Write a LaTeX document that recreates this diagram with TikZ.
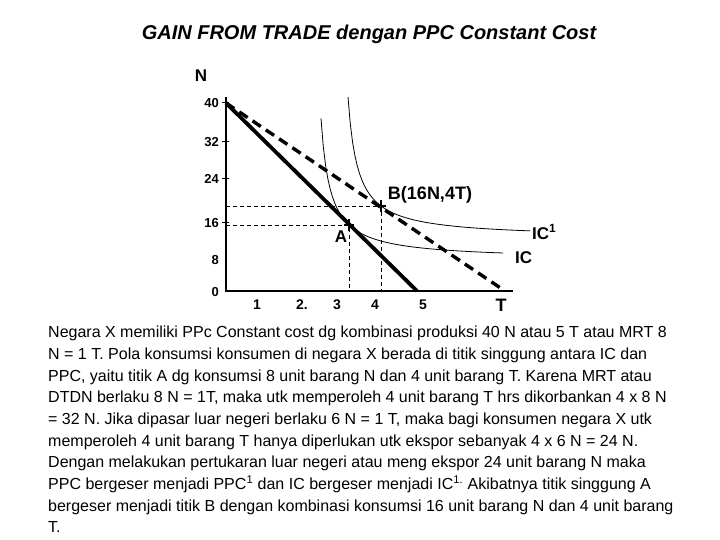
\documentclass[tikz,border=0pt]{standalone}
\usepackage{fontspec}
\setmainfont{Liberation Sans}
\usetikzlibrary{calc,positioning}
\tikzset{
  every picture/.style={font=\fontsize{16}{21.67}\selectfont,text=black},
  axis/.style={draw=black,line width=1.3pt},
  ppc/.style={draw=black,line width=3.8pt},
  ppctrade/.style={draw=black,line width=3.4pt,dash pattern=on 10pt off 6pt},
  indiff/.style={draw=black,line width=0.8pt},
  guide/.style={draw=black,line width=0.8pt,dash pattern=on 4pt off 3pt},
  marker/.style={draw=black,line width=1.2pt},
  tick label/.style={font=\bfseries\fontsize{13}{15}\selectfont,anchor=east,inner sep=1pt},
  num label/.style={font=\bfseries\fontsize{14}{16}\selectfont,inner sep=1pt},
  curve label/.style={font=\bfseries\fontsize{17}{19}\selectfont,inner sep=1pt},
}

\begin{document}
\begin{tikzpicture}[x=1pt,y=-1pt]
  \path[use as bounding box] (0,0) rectangle (720,540);
  \node[font=\bfseries\itshape\fontsize{20}{22}\selectfont] (title) at (369,34)
    {GAIN FROM TRADE dengan PPC Constant Cost};
  % axes
  \coordinate (O) at (226,291);
  \coordinate (ytop) at (226,97);
  \coordinate (xend) at (513,291);
  \draw[axis] (ytop) -- (O) -- (xend);
  \node[curve label] (ylab) at (201,76) {N};
  \node[curve label,font=\bfseries\fontsize{18}{20}\selectfont] (xlab) at (501,305) {T};
  \foreach \v/\y in {40/103,32/142,24/179,16/223} {
    \draw[axis,line width=1pt] (222,\y) -- (229,\y);
    \node[tick label] (n\v) at (220,\y) {\v};
  }
  \node[tick label] (n8) at (220,260) {8};
  \node[tick label] (n0) at (220,292) {0};
  \foreach \t/\x in {1/257,2./302,3/337,4/375,5/423}
    \node[num label] (t\t) at (\x,305) {\t};
  % consumption points and guides
  \coordinate (ptA) at (349,225);
  \coordinate (ptB) at (381,206);
  \draw[guide] (226,225) -- (ptA) -- (349,291);
  \draw[guide] (226,206) -- (ptB) -- (381,291);
  % indifference curves
  \draw[indiff] plot[domain=321:503,samples=80] (\x,{259.8-1300/(\x-311.8)});
  \draw[indiff] plot[domain=348:530,samples=80] (\x,{238-1368/(\x-338.3)});
  % production possibility curves
  \coordinate (ppctop) at (226,103);
  \coordinate (ppcend) at (417,291);
  \coordinate (tradeend) at (502,289);
  \draw[ppc] (ppctop) -- (ppcend);
  \draw[ppctrade] (ppctop) -- (tradeend);
  \foreach \p in {ptA,ptB}
    \draw[marker] ($(\p)+(-5,0)$) -- ($(\p)+(5,0)$) ($(\p)+(0,-6)$) -- ($(\p)+(0,6)$);
  \node[curve label] (labA) at (341,237) {A};
  \node[curve label,font=\bfseries\fontsize{18}{20}\selectfont] (labB) at (430,195) {B(16N,4T)};
  \node[curve label,anchor=west] (labIC1) at (531,232) {IC\textsuperscript{1}};
  \node[curve label,anchor=west] (labIC) at (514,258) {IC};
  % explanation
  \node[anchor=north west,align=left,inner sep=0pt] (body) at (48,326) {%
    Negara X memiliki PPc Constant cost dg kombinasi produksi 40 N atau 5 T atau MRT 8\\
    N = 1 T. Pola konsumsi konsumen di negara X berada di titik singgung antara IC dan\\
    PPC, yaitu titik A dg konsumsi 8 unit barang N dan 4 unit barang T. Karena MRT atau\\
    DTDN berlaku 8 N = 1T, maka utk memperoleh 4 unit barang T hrs dikorbankan 4 x 8 N\\
    = 32 N. Jika dipasar luar negeri berlaku 6 N = 1 T, maka bagi konsumen negara X utk\\
    memperoleh 4 unit barang T hanya diperlukan utk ekspor sebanyak 4 x 6 N = 24 N.\\
    Dengan melakukan pertukaran luar negeri atau meng ekspor 24 unit barang N maka\\
    PPC bergeser menjadi PPC\textsuperscript{1} dan IC bergeser menjadi IC\textsuperscript{1.} Akibatnya titik singgung A\\
    bergeser menjadi titik B dengan kombinasi konsumsi 16 unit barang N dan 4 unit barang\\
    T.};
\end{tikzpicture}
\end{document}
